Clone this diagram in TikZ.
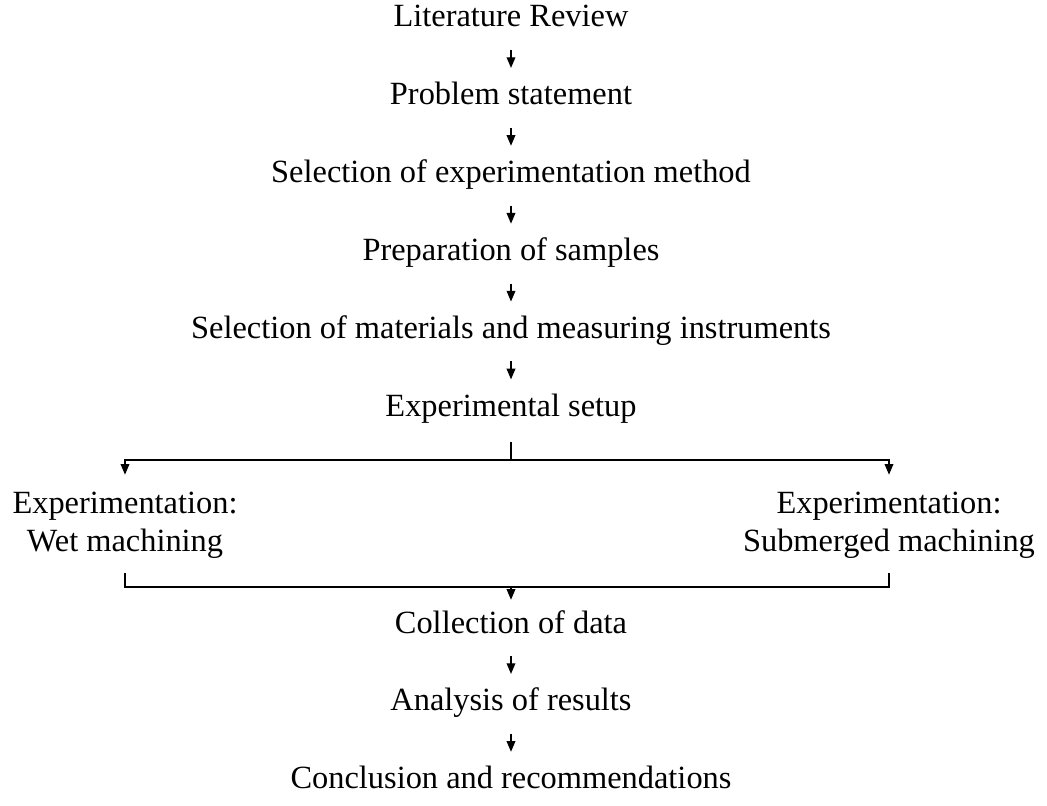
\documentclass[tikz,border=0pt]{standalone}
\usepackage{fontspec}
\setmainfont{Liberation Serif}
\usepackage{tikz}
\usetikzlibrary{positioning,arrows.meta}

\begin{document}
\begin{tikzpicture}[
    x=0.75pt, y=-0.75pt,
    stage/.style={align=center, inner sep=0pt, text height=17pt, text depth=5pt, font=\fontsize{24.3}{28.5}\selectfont},
    branch/.style={stage, text height=35pt},
    arrow/.style={-{Triangle[length=8pt,width=6.5pt]}, line width=1pt, shorten <=12pt, shorten >=10.5pt},
    link/.style={line width=1pt},
    tip/.style={-{Triangle[length=8pt,width=6.5pt]}},
    node distance=36pt
]
\useasboundingbox (0,0) rectangle (1047,806);

\node[stage] (review) at (511,19) {Literature Review};
\node[stage, below=of review] (problem) {Problem statement};
\node[stage, below=of problem] (method) {Selection of experimentation method};
\node[stage, below=of method] (samples) {Preparation of samples};
\node[stage, below=of samples] (materials) {Selection of materials and measuring instruments};
\node[stage, below=of materials] (setup) {Experimental setup};

\node[branch] (wet) at (125,531) {Experimentation:\\Wet machining};
\node[branch] (submerged) at (889,531) {Experimentation:\\Submerged machining};

\node[stage] (data) at (511,625) {Collection of data};
\node[stage, below=of data] (analysis) {Analysis of results};
\node[stage, below=of analysis] (conclusion) {Conclusion and recommendations};

\coordinate (split) at (511,460);
\coordinate (join) at (511,587);

\draw[arrow] (review) -- (problem);
\draw[arrow] (problem) -- (method);
\draw[arrow] (method) -- (samples);
\draw[arrow] (samples) -- (materials);
\draw[arrow] (materials) -- (setup);

% branch out
\draw[link] (setup.south) ++(0,19) -- (split);
\draw[link, tip] (split) -| ([yshift=22pt]wet.north);
\draw[link, tip] (split) -| ([yshift=22pt]submerged.north);

% join back
\draw[link] ([yshift=-11.5pt]wet.south) |- (join);
\draw[link] ([yshift=-11.5pt]submerged.south) |- (join);
\draw[link, tip] (join) -- ([yshift=7.7pt]data.north);

\draw[arrow] (data) -- (analysis);
\draw[arrow] (analysis) -- (conclusion);
\end{tikzpicture}
\end{document}
